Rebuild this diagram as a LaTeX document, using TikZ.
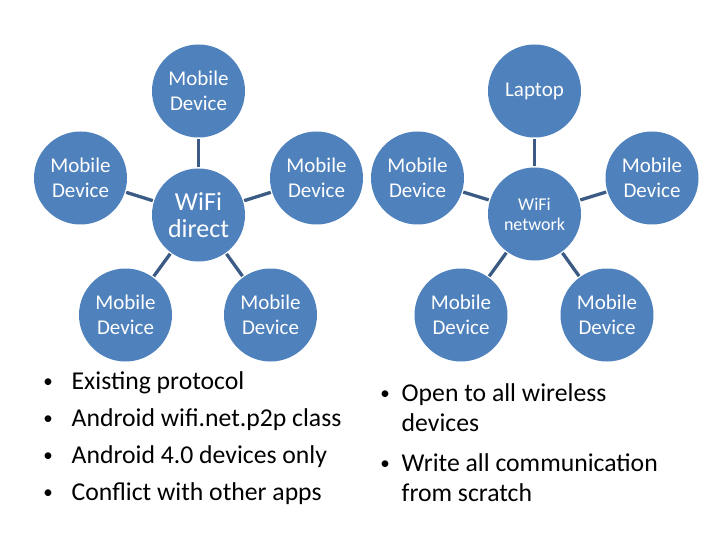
\documentclass[tikz,border=0pt]{standalone}
\usepackage{fontspec}
\setmainfont{Carlito}
\definecolor{hubblue}{HTML}{4F81BD}
\definecolor{linkcol}{HTML}{3B5B84}
\begin{document}
\begin{tikzpicture}[x=1pt,y=-1pt,
  dev/.style={circle,fill=hubblue,draw=none,minimum size=93pt,inner sep=0pt,
    text=white,align=center,font=\fontsize{21}{24.5}\selectfont},
  link/.style={draw=linkcol,line width=3.3pt,shorten <=1.2pt,shorten >=1.2pt},
  bul/.style={anchor=base,font=\fontsize{19}{30}\selectfont,inner sep=0pt},
  btxt/.style={anchor=base west,font=\fontsize{25.7}{30}\selectfont,inner sep=0pt,text=black}]
\useasboundingbox (0,0) rectangle (720,540);
% left diagram
\node[dev,font=\fontsize{26}{27}\selectfont] (lc) at (198.5,215) {WiFi\\direct};
\node[dev] (lt) at (198.5,91) {Mobile\\Device};
\node[dev] (ll) at (80.5,178) {Mobile\\Device};
\node[dev] (lr) at (316.5,178) {Mobile\\Device};
\node[dev] (lbl) at (125.5,315) {Mobile\\Device};
\node[dev] (lbr) at (270.5,315) {Mobile\\Device};
\foreach \n in {lt,ll,lr,lbl,lbr} \draw[link] (lc) -- (\n);
% right diagram
\node[dev,font=\fontsize{18}{20}\selectfont] (rc) at (534.5,214) {WiFi\\network};
\node[dev] (rt) at (534.5,91) {Laptop};
\node[dev] (rl) at (417.5,178) {Mobile\\Device};
\node[dev] (rr) at (652,178) {Mobile\\Device};
\node[dev] (rbl) at (461,315) {Mobile\\Device};
\node[dev] (rbr) at (607,315) {Mobile\\Device};
\foreach \n in {rt,rl,rr,rbl,rbr} \draw[link] (rc) -- (\n);
% left bullets
\node[bul] (lb1) at (48,387) {•};
\node[btxt] (lt1) at (71.5,389) {Existing protocol};
\node[bul] (lb2) at (48,424) {•};
\node[btxt] (lt2) at (71.5,426) {Android wifi.net.p2p class};
\node[bul] (lb3) at (48,461) {•};
\node[btxt] (lt3) at (71.5,463) {Android 4.0 devices only};
\node[bul] (lb4) at (48,498) {•};
\node[btxt] (lt4) at (71.5,500) {Conflict with other apps};
% right bullets
\node[bul] (rb1) at (385,399.5) {•};
\node[btxt] (rt1) at (401.5,401.5) {Open to all wireless};
\node[btxt] (rt1b) at (401.5,431) {devices};
\node[bul] (rb2) at (385,469.5) {•};
\node[btxt] (rt2) at (401.5,471.5) {Write all communication};
\node[btxt] (rt2b) at (401.5,501) {from scratch};
\end{tikzpicture}
\end{document}
